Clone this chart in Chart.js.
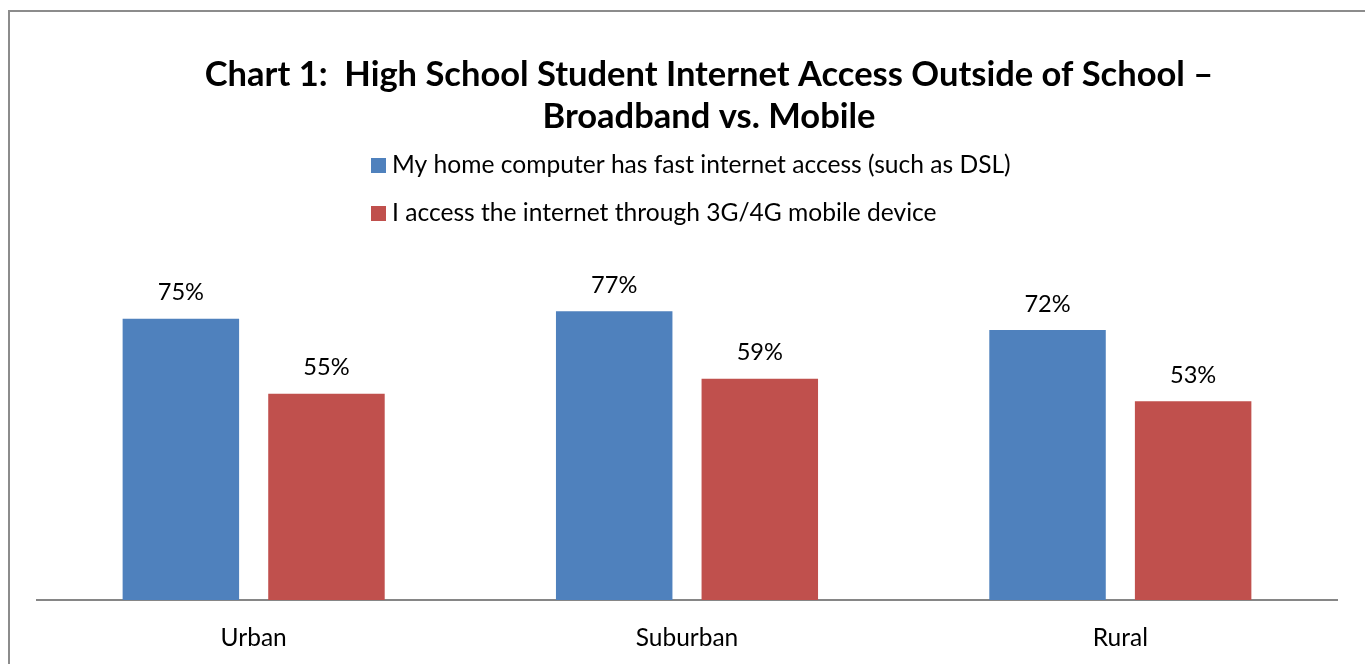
<!DOCTYPE html>
<html>
<head>
<meta charset="utf-8">
<script src="https://cdn.jsdelivr.net/npm/chart.js@4.4.1/dist/chart.umd.min.js"></script>
<style>
  html, body { margin: 0; padding: 0; background: #fff; }
  #wrap { width: 1365px; height: 664px; position: relative; }
</style>
</head>
<body>
<div id="wrap"><canvas id="chart" width="1365" height="664"></canvas></div>
<script>
// chart data
const categories = ["Urban", "Suburban", "Rural"]
const broadband = [75, 77, 72]
const mobile = [55, 59, 53]
const seriesLabels = [
    "My home computer has fast internet access (such as DSL)",
    "I access the internet through 3G/4G mobile device"
]
const titleLines = [
    "Chart 1:  High School Student Internet Access Outside of School \u2013",
    "Broadband vs. Mobile"
]

const FONT = "Lato, 'Open Sans', sans-serif"
const BLUE = "#4F81BD"
const RED = "#C0504D"

// outer frame of the chart (cut off at right / bottom like the original)
const framePlugin = {
    id: "frame",
    beforeDraw(chart) {
        const ctx = chart.ctx
        ctx.save()
        ctx.strokeStyle = "#8c8c8c"
        ctx.lineWidth = 2
        ctx.strokeRect(9, 11, chart.width + 20, chart.height + 20)
        ctx.restore()
    }
}

// the original title is centred on the (wider) frame, not on the plot
const shiftTitle = {
    id: "shiftTitle",
    afterLayout(chart) {
        const t = chart.titleBlock
        if (t) {
            t.left += 22
            t.right += 22
        }
    }
}

// legend stacked vertically, left aligned
const stackedLegend = {
    id: "stackedLegend",
    afterDraw(chart) {
        const ctx = chart.ctx
        ctx.save()
        ctx.font = "24.6px " + FONT
        ctx.textBaseline = "middle"
        chart.data.datasets.forEach((ds, i) => {
            const y = 165 + i * 48
            ctx.fillStyle = ds.backgroundColor
            ctx.fillRect(371, y - 7, 15, 15)
            ctx.fillStyle = "#000"
            ctx.fillText(ds.label, 392, y)
        })
        ctx.restore()
    }
}

// value labels above bars
const valueLabels = {
    id: "valueLabels",
    afterDatasetsDraw(chart) {
        const ctx = chart.ctx
        ctx.save()
        ctx.font = "23.6px " + FONT
        ctx.fillStyle = "#000"
        ctx.textAlign = "center"
        ctx.textBaseline = "middle"
        chart.data.datasets.forEach((ds, i) => {
            chart.getDatasetMeta(i).data.forEach((bar, j) => {
                ctx.fillText(ds.data[j] + "%", bar.x, bar.y - 26)
            })
        })
        ctx.restore()
    }
}

const config = {
    type: "bar",
    data: {
        labels: categories,
        datasets: [{
            label: seriesLabels[0],
            data: broadband,
            backgroundColor: BLUE
        }, {
            label: seriesLabels[1],
            data: mobile,
            backgroundColor: RED
        }]
    },
    options: {
        responsive: false,
        animation: false,
        events: [],
        categoryPercentage: 0.672,
        barPercentage: 0.8,
        layout: {
            padding: { left: 37, right: 28, top: 0, bottom: 0 }
        },
        plugins: {
            legend: { display: false },
            tooltip: { enabled: false },
            title: {
                display: true,
                text: titleLines,
                color: "#000",
                font: { family: FONT, size: 34.5, weight: "bold", lineHeight: 1.217 },
                padding: { top: 54, bottom: 87 }
            }
        },
        scales: {
            x: {
                grid: { display: false, drawTicks: false },
                border: { display: true, color: "#868686", width: 2 },
                ticks: {
                    color: "#000",
                    padding: 23,
                    font: { family: FONT, size: 24.5, lineHeight: 1.2 }
                },
                afterFit(scale) {
                    scale.height = 64
                }
            },
            y: {
                display: false,
                min: 0,
                max: 100
            }
        }
    },
    plugins: [framePlugin, shiftTitle, stackedLegend, valueLabels]
}

new Chart(document.getElementById("chart"), config)
</script>
</body>
</html>
